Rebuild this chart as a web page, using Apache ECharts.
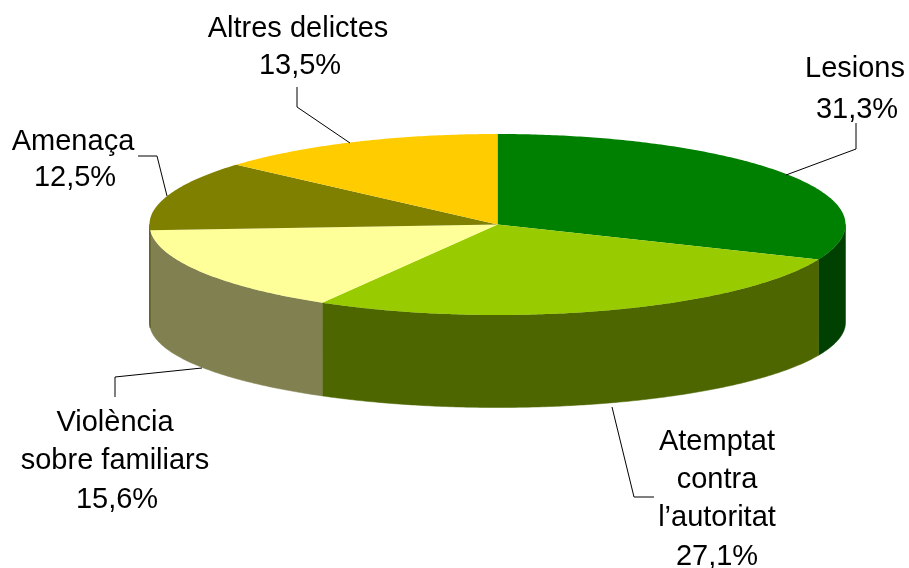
<!DOCTYPE html>
<html><head><meta charset="utf-8">
<style>html,body{margin:0;padding:0;background:#fff}#c{width:909px;height:568px}</style>
<script src="https://cdn.jsdelivr.net/npm/echarts@6/dist/echarts.min.js"></script>
</head><body><div id="c"></div>
<script>
const categories = ['Lesions','Atemptat contra l’autoritat','Violència sobre familiars','Amenaça','Altres delictes'];
const values = [31.3,27.1,15.6,12.5,13.5];
const valueLabels = ['31,3%','27,1%','15,6%','12,5%','13,5%'];
const labelLines = [['Lesions'],['Atemptat','contra','l’autoritat'],['Violència','sobre familiars'],['Amenaça'],['Altres delictes']];

const topColors = ['#008000','#99CC00','#FFFF99','#808000','#FFCC00'];
const sideColors = ['#004000','#4D6600','#808050','#404000','#806600'];
const CX=497.5, CY=224.5, RX=348, RY=90.5, BOTTOM_CY=322.5, BOTTOM_RY=85;
const total = values.reduce((a,b)=>a+b,0);
const ends=[]; values.reduce((s,v,i)=>(ends[i]=s+v,s+v),0);
const angleOf = v => v/total*Math.PI*2;
const pt = (a,cy=CY,ry=RY)=>[CX+RX*Math.sin(a), cy-ry*Math.cos(a)];
function arc(a0,a1,cy,ry){const n=Math.max(2,Math.ceil((a1-a0)/0.01));const p=[];
  for(let i=0;i<=n;i++)p.push(pt(a0+(a1-a0)*i/n,cy,ry));return p;}

const leaderLayout = [
 [[786,175],[856,149],[856,123]],
 [[612,407],[634,497],[654,497]],
 [[202,368],[115,377],[115,397]],
 [[167,196],[157,156],[138,156]],
 [[350,143],[297,107],[297,87]]
];
const textLayout = [
 {x:855,vx:857,y:[69,110]},
 {x:717,vx:717,y:[442,480,518,557]},
 {x:115,vx:117,y:[423,461,500]},
 {x:73,vx:75,y:[142,178]},
 {x:298,vx:300,y:[29,66]}
];
const font = {fontFamily:'"Liberation Sans",Arial,sans-serif',fontSize:29,fill:'#000',align:'center',verticalAlign:'middle'};

const seriesData = values.map((v,i)=>({name:categories[i],value:[v,i]}));

function renderSide(params,api){
  const i=api.value(1), v=api.value(0);
  const end=angleOf(ends[i]), start=end-angleOf(v);
  const a0=Math.max(start,Math.PI/2), a1=Math.min(end,Math.PI*1.5);
  if(a1<=a0) return {type:'group',children:[]};
  const points=arc(a0,a1,CY,RY).concat(arc(a0,a1,BOTTOM_CY,BOTTOM_RY).reverse());
  return {type:'polygon',shape:{points},style:{fill:sideColors[i],stroke:sideColors[i],lineWidth:0.5}};
}
function renderTop(params,api){
  const i=api.value(1), v=api.value(0);
  const end=angleOf(ends[i]), start=end-angleOf(v);
  const points=[[CX,CY]].concat(arc(start,end,CY,RY));
  return {type:'polygon',shape:{points},style:{fill:topColors[i]}};
}
function renderLabel(params,api){
  const i=api.value(1);
  const lines=labelLines[i].concat([valueLabels[i]]);
  const children=[{type:'polyline',shape:{points:leaderLayout[i]},style:{fill:null,stroke:'#000',lineWidth:1}}];
  lines.forEach((t,k)=>children.push({type:'text',style:Object.assign({text:t,x:k===lines.length-1?textLayout[i].vx:textLayout[i].x,y:textLayout[i].y[k]},font)}));
  return {type:'group',children};
}
const chart=echarts.init(document.getElementById('c'),null,{renderer:'canvas'});
chart.setOption({
  animation:false,
  backgroundColor:'#fff',
  series:[
    {type:'custom',coordinateSystem:'none',renderItem:renderSide,data:seriesData,z:1,silent:true},
    {type:'custom',coordinateSystem:'none',renderItem:renderTop,data:seriesData,z:2,silent:true},
    {type:'custom',coordinateSystem:'none',renderItem:renderLabel,data:seriesData,z:3,silent:true}
  ]
});
</script></body></html>
